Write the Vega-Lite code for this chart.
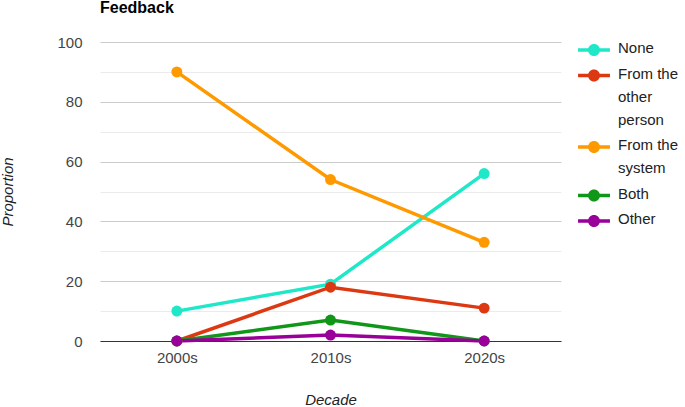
{
  "$schema": "https://vega.github.io/schema/vega-lite/v6.json",
  "width": 461,
  "height": 299,
  "autosize": {"type": "none"},
  "padding": {"left": 100, "top": 42, "right": 124, "bottom": 66},
  "config": {"font": "Liberation Sans", "view": {"stroke": null}},
  "title": {"text": "Feedback", "anchor": "start", "frame": "group", "offset": 19, "fontSize": 16, "fontWeight": "bold", "color": "#000000"},
  "data": {"values": [
    {"decade": "2000s", "series": "None", "value": 10},
    {"decade": "2010s", "series": "None", "value": 19},
    {"decade": "2020s", "series": "None", "value": 56},
    {"decade": "2000s", "series": "From the other person", "value": 0},
    {"decade": "2010s", "series": "From the other person", "value": 18},
    {"decade": "2020s", "series": "From the other person", "value": 11},
    {"decade": "2000s", "series": "From the system", "value": 90},
    {"decade": "2010s", "series": "From the system", "value": 54},
    {"decade": "2020s", "series": "From the system", "value": 33},
    {"decade": "2000s", "series": "Both", "value": 0},
    {"decade": "2010s", "series": "Both", "value": 7},
    {"decade": "2020s", "series": "Both", "value": 0},
    {"decade": "2000s", "series": "Other", "value": 0},
    {"decade": "2010s", "series": "Other", "value": 2},
    {"decade": "2020s", "series": "Other", "value": 0}
  ]},
  "encoding": {
    "x": {
      "field": "decade", "type": "ordinal",
      "scale": {"type": "point", "padding": 0.5},
      "title": "Decade",
      "axis": {
        "labelAngle": 0, "ticks": false, "domainColor": "#333333", "domainWidth": 1.2,
        "labelPadding": 9, "labelFontSize": 15, "labelColor": "#444444",
        "titleFontSize": 15, "titleFontStyle": "italic", "titleFontWeight": "normal", "titleColor": "#222222", "titlePadding": 27
      }
    },
    "y": {
      "field": "value", "type": "quantitative",
      "scale": {"domain": [0, 100], "nice": false},
      "title": "Proportion",
      "axis": {
        "values": [0, 10, 20, 30, 40, 50, 60, 70, 80, 90, 100],
        "labelExpr": "datum.value % 20 == 0 ? datum.label : ''",
        "gridColor": {"condition": {"test": "datum.value % 20 != 0", "value": "#ebebeb"}, "value": "#cccccc"},
        "domain": false, "ticks": false, "labelPadding": 18, "labelFontSize": 15, "labelColor": "#444444",
        "titleFontSize": 15, "titleFontStyle": "italic", "titleFontWeight": "normal", "titleColor": "#222222", "titlePadding": 41
      }
    },
    "color": {
      "field": "series", "type": "nominal",
      "scale": {
        "domain": ["None", "From the other person", "From the system", "Both", "Other"],
        "range": ["#1ee8c8", "#dc3912", "#ff9900", "#109618", "#990099"]
      },
      "legend": {
        "orient": "none", "legendX": 482, "legendY": -4, "title": null, "padding": 0,
        "symbolType": "M-1.33,-0.15L1.33,-0.15L1.33,0.15L-1.33,0.15Z M-0.5,0A0.5,0.5,0,1,1,0.5,0A0.5,0.5,0,1,1,-0.5,0Z",
        "symbolSize": 576, "symbolStrokeWidth": 0,
        "labelFontSize": 15, "labelColor": "#222222", "labelOffset": 12, "rowPadding": 7.5,
        "labelExpr": "datum.label == 'From the other person' ? ['From the', 'other', 'person'] : datum.label == 'From the system' ? ['From the', 'system'] : datum.label",
        "encode": {
          "symbols": {"update": {"fill": {"scale": "color", "field": "value"}, "stroke": {"value": "transparent"}, "opacity": {"value": 1}}},
          "labels": {"update": {"lineHeight": {"value": 23}, "baseline": {"value": "top"}, "dy": {"value": -9}}}
        }
      }
    }
  },
  "layer": [
    {"mark": {"type": "line", "strokeWidth": 3.5}},
    {"mark": {"type": "point", "filled": true, "opacity": 1, "size": 120}}
  ]
}
